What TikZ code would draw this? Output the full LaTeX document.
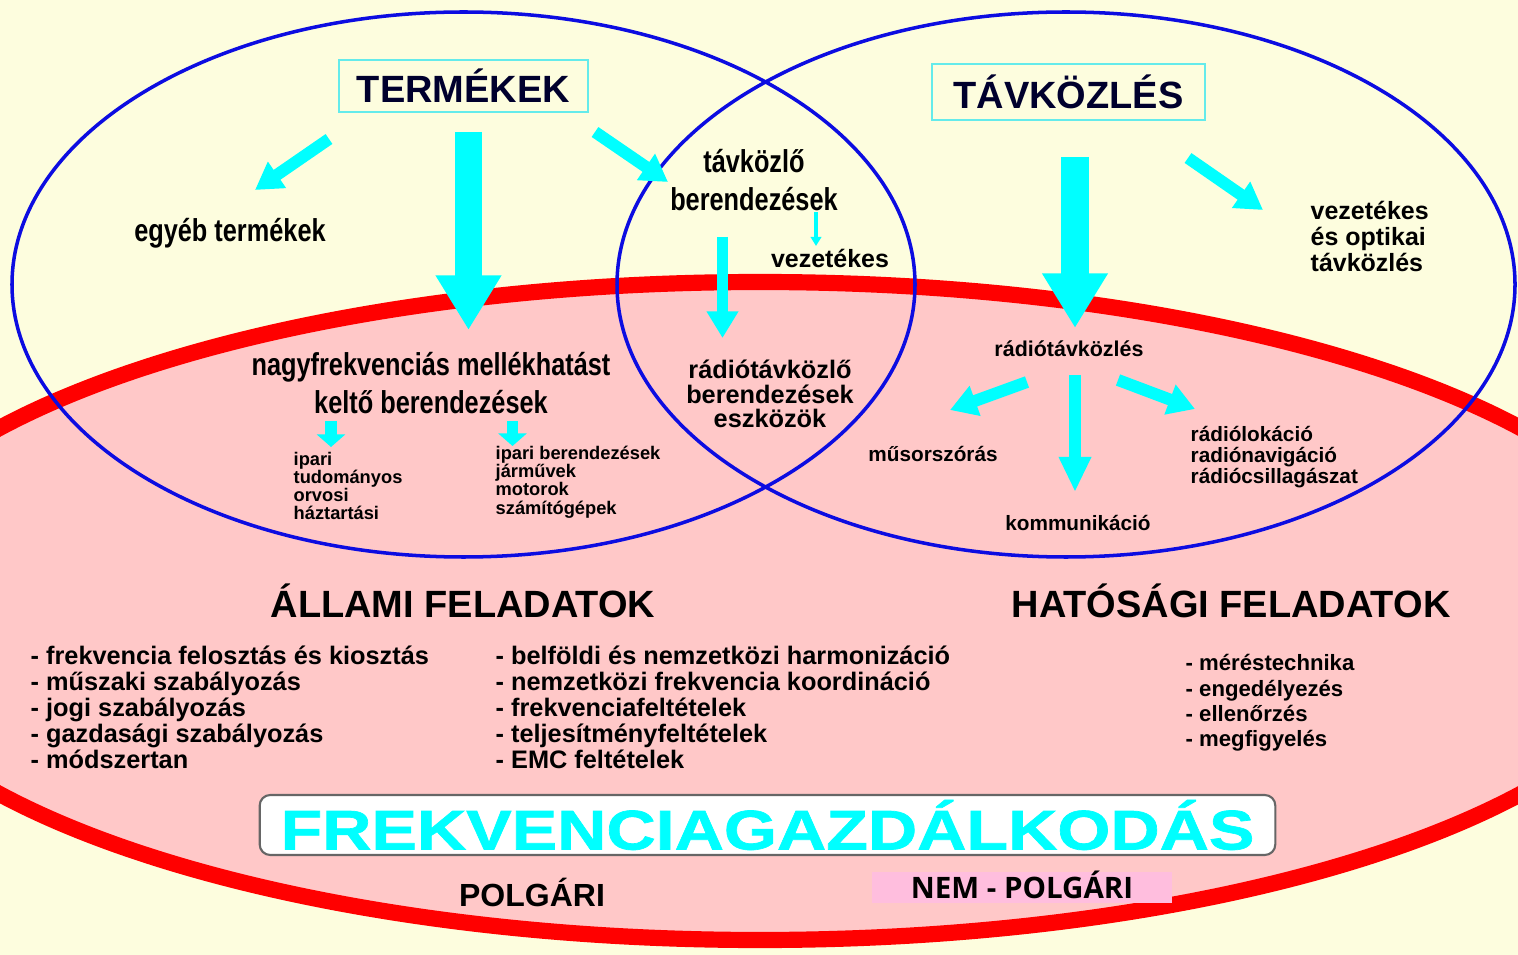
\documentclass[tikz,border=0pt]{standalone}
\usepackage{fontspec}
\setmainfont{Liberation Sans}
\newfontfamily\narrowfont[FakeStretch=0.8]{Liberation Sans}
\newfontfamily\widefont[FakeStretch=1.22,FakeBold=1.2]{Liberation Sans}
\newfontfamily\tagfont{Open Sans}
\usetikzlibrary{arrows.meta}

\definecolor{bgcream}{RGB}{253,253,222}
\definecolor{fieldpink}{RGB}{255,200,200}
\definecolor{ringred}{RGB}{255,0,0}
\definecolor{setblue}{RGB}{12,12,225}
\definecolor{arrowcyan}{RGB}{0,255,255}
\definecolor{boxcyan}{RGB}{100,235,235}
\definecolor{tagpink}{RGB}{255,190,222}
\definecolor{inkblue}{RGB}{0,0,45}

\tikzset{
  bigarrow/.style={draw=arrowcyan,line width=7.7pt,-{Triangle[width=17.6pt,length=15.5pt]}},
  midarrow/.style={draw=arrowcyan,line width=3.4pt,-{Triangle[width=8.6pt,length=7.6pt]}},
  longarrow/.style={draw=arrowcyan,line width=3.6pt,-{Triangle[width=8.6pt,length=10pt]}},
  smallarrow/.style={draw=arrowcyan,line width=3.4pt,-{Triangle[width=8pt,length=3.6pt]}},
  thinarrow/.style={draw=arrowcyan,line width=0.9pt,-{Triangle[width=3pt,length=2.6pt]}},
  titlebox/.style={draw=boxcyan,line width=0.6pt,inner sep=0pt,text=inkblue,
    font=\bfseries\fontsize{10.8}{12}\selectfont},
  narrowtext/.style={inner sep=0pt,align=center,font=\narrowfont\bfseries\fontsize{9}{10.6}\selectfont},
  smalltext/.style={inner sep=0pt,font=\bfseries\fontsize{7.1}{7.2}\selectfont},
  labeltext/.style={inner sep=0pt,font=\bfseries\fontsize{5.9}{6}\selectfont},
  tinytext/.style={inner sep=0pt,anchor=west,align=left,font=\bfseries\fontsize{5.2}{5.2}\selectfont},
  headtext/.style={inner sep=0pt,font=\bfseries\fontsize{10.8}{12}\selectfont},
  listtext/.style={inner sep=0pt,anchor=west,align=left,font=\bfseries\fontsize{7.2}{7.4}\selectfont},
}

\begin{document}
\begin{tikzpicture}[x=0.01cm,y=-0.01cm]
\fill[bgcream] (0,0) rectangle (1518,955);
\clip (0,0) rectangle (1518,955);

% polgari es nem-polgari terulet
\draw[ringred,line width=4.6pt,fill=fieldpink] (760,611) ellipse [x radius=915,y radius=329];
% termekek / tavkozles halmazok
\draw[setblue,line width=1pt] (463.5,284.5) ellipse [x radius=451.5,y radius=272.5];
\draw[setblue,line width=1pt] (1066,284.5) ellipse [x radius=449,y radius=272.5];

\node[titlebox,minimum width=2.49cm,minimum height=0.52cm] (termekek) at (463.5,86) {TERMÉKEK};
\node[titlebox,minimum width=2.73cm,minimum height=0.56cm] (tavkozles) at (1068.5,92) {TÁVKÖZLÉS};

\node[narrowtext] (egyeb) at (230,233) {egyéb termékek};
\node[narrowtext] (tavkozlo) at (754,180) {távközlő\\berendezések};
\node[smalltext] (vezetekes) at (830,258) {vezetékes};
\node[smalltext,anchor=west,align=left,font=\bfseries\fontsize{7.1}{7.4}\selectfont] (optikai) at (1310,236) {vezetékes\\és optikai\\távközlés};
\node[narrowtext] (nagyfrek) at (431,383) {nagyfrekvenciás mellékhatást\\keltő berendezések};
\node[tinytext] (ipari) at (293,486) {ipari\\tudományos\\orvosi\\háztartási};
\node[tinytext] (gepek) at (495,482) {ipari berendezések\\járművek\\motorok\\számítógépek};
\node[smalltext,align=center,font=\bfseries\fontsize{7.2}{7}\selectfont] (radioberend) at (770,394) {rádiótávközlő\\berendezések\\eszközök};
\node[labeltext,font=\bfseries\fontsize{6.1}{6}\selectfont] (radio) at (1069,349) {rádiótávközlés};
\node[labeltext] (musor) at (933,454) {műsorszórás};
\node[labeltext] (kommunikacio) at (1078,523) {kommunikáció};
\node[labeltext,anchor=west,align=left] (lokacio) at (1190,457) {rádiólokáció\\radiónavigáció\\rádiócsillagászat};

% nyilak
\coordinate (termekek-bal) at (329,139);
\coordinate (egyeb-fel) at (255,190);
\coordinate (termekek-le) at (468.5,132);
\coordinate (nagyfrek-fel) at (468.5,330);
\coordinate (termekek-jobb) at (595,132);
\coordinate (tavkozlo-fel) at (668,182);
\coordinate (tavkozlo-ki) at (816,212);
\coordinate (vezetekes-fel) at (816,246);
\coordinate (tavkozlo-le) at (722.5,237);
\coordinate (radioberend-fel) at (722.5,338);
\coordinate (tavkozles-le) at (1075,157);
\coordinate (radio-fel) at (1075,328);
\coordinate (tavkozles-jobb) at (1188,158);
\coordinate (optikai-fel) at (1263,210);
\coordinate (nagyfrek-bal) at (331,421);
\coordinate (ipari-fel) at (331,447);
\coordinate (nagyfrek-jobb) at (512.5,421);
\coordinate (gepek-fel) at (512.5,446);
\coordinate (radio-bal) at (1027,382);
\coordinate (musor-fel) at (950,410);
\coordinate (radio-le) at (1075,375);
\coordinate (kommunikacio-fel) at (1075,492);
\coordinate (radio-jobb) at (1118,380);
\coordinate (lokacio-fel) at (1195,409);

\draw[midarrow] (termekek-bal) -- (egyeb-fel);
\draw[bigarrow] (termekek-le) -- (nagyfrek-fel);
\draw[midarrow] (termekek-jobb) -- (tavkozlo-fel);
\draw[thinarrow] (tavkozlo-ki) -- (vezetekes-fel);
\draw[midarrow] (tavkozlo-le) -- (radioberend-fel);
\draw[bigarrow] (tavkozles-le) -- (radio-fel);
\draw[midarrow] (tavkozles-jobb) -- (optikai-fel);
\draw[smallarrow] (nagyfrek-bal) -- (ipari-fel);
\draw[smallarrow] (nagyfrek-jobb) -- (gepek-fel);
\draw[midarrow] (radio-bal) -- (musor-fel);
\draw[longarrow] (radio-le) -- (kommunikacio-fel);
\draw[midarrow] (radio-jobb) -- (lokacio-fel);

% feladatok
\node[headtext] (allami) at (463,601) {ÁLLAMI FELADATOK};
\node[headtext] (hatosagi) at (1231,601) {HATÓSÁGI FELADATOK};
\node[listtext] (allamilista) at (30,707) {- frekvencia felosztás és kiosztás\\- műszaki szabályozás\\- jogi szabályozás\\- gazdasági szabályozás\\- módszertan};
\node[listtext] (nemzetkozilista) at (495,707) {- belföldi és nemzetközi harmonizáció\\- nemzetközi frekvencia koordináció\\- frekvenciafeltételek\\- teljesítményfeltételek\\- EMC feltételek};
\node[listtext,font=\bfseries\fontsize{6.3}{7.2}\selectfont] (hatosagilista) at (1185,703) {- méréstechnika\\- engedélyezés\\- ellenőrzés\\- megfigyelés};

\node[draw=black!60,line width=0.6pt,fill=white,rounded corners=3pt,minimum width=10.15cm,minimum height=0.6cm,inner sep=0pt,text=arrowcyan,font=\widefont\bfseries\fontsize{15.9}{16}\selectfont] (frekv) at (767.5,825) {FREKVENCIAGAZDÁLKODÁS};
\node[inner sep=0pt,font=\bfseries\fontsize{9.1}{10}\selectfont] (polgari) at (532,892) {POLGÁRI};
\node[fill=tagpink,minimum width=3cm,minimum height=0.31cm,inner sep=0pt,text height=6.6pt,text depth=0.6pt,font=\tagfont\bfseries\fontsize{8.4}{9}\selectfont] (nempolgari) at (1022,887.5) {NEM - POLGÁRI};
\end{tikzpicture}
\end{document}
